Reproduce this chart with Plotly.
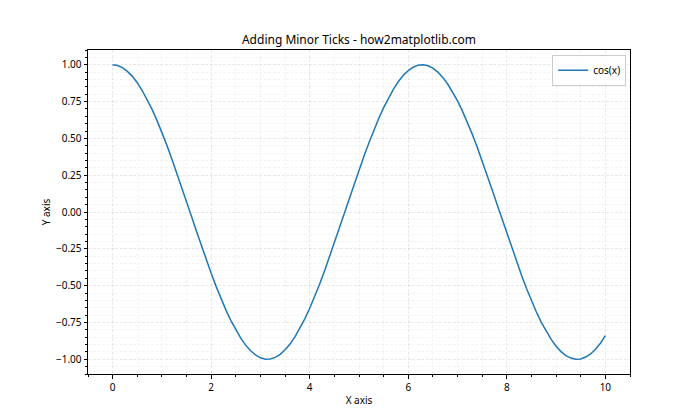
import plotly.graph_objects as go

x_vals = [round(i * 0.1, 1) for i in range(101)]
cos_vals = [1.000, 0.995, 0.980, 0.955, 0.921, 0.878, 0.825, 0.765, 0.697, 0.622,
            0.540, 0.454, 0.362, 0.267, 0.170, 0.071, -0.029, -0.129, -0.227, -0.323,
            -0.416, -0.505, -0.589, -0.666, -0.737, -0.801, -0.857, -0.904, -0.942, -0.971,
            -0.990, -0.999, -0.998, -0.987, -0.967, -0.936, -0.897, -0.848, -0.791, -0.726,
            -0.654, -0.575, -0.490, -0.401, -0.307, -0.211, -0.112, -0.012, 0.087, 0.187,
            0.284, 0.378, 0.469, 0.554, 0.635, 0.709, 0.776, 0.835, 0.886, 0.928,
            0.960, 0.983, 0.997, 1.000, 0.993, 0.977, 0.950, 0.914, 0.869, 0.816,
            0.754, 0.685, 0.608, 0.527, 0.439, 0.347, 0.251, 0.153, 0.054, -0.046,
            -0.146, -0.244, -0.339, -0.431, -0.519, -0.602, -0.679, -0.749, -0.811, -0.865,
            -0.911, -0.948, -0.975, -0.992, -1.000, -0.998, -0.985, -0.964, -0.932, -0.891,
            -0.839]
x_ticks = [0, 2, 4, 6, 8, 10]
y_ticks = [1.00, 0.75, 0.50, 0.25, 0.00, -0.25, -0.50, -0.75, -1.00]
y_tick_text = ["1.00", "0.75", "0.50", "0.25", "0.00", "−0.25", "−0.50", "−0.75", "−1.00"]

font = "Noto Sans, DejaVu Sans, sans-serif"
grid_c = "rgba(0,0,0,0.045)"
gdash = "3px,1.5px"

# page body has an 8px margin: figure spans page x 8..700, y 8..420
W, H = 692, 412
L, R, T, B = 80, 70, 42, 46

fig = go.Figure()
fig.add_trace(go.Scatter(x=x_vals, y=cos_vals, mode="lines", name="cos(x)",
                         line=dict(color="#1f77b4", width=1.5)))

fig.update_layout(
    width=W, height=H,
    margin=dict(l=L, r=R, t=T, b=B, autoexpand=False),
    paper_bgcolor="white", plot_bgcolor="white",
    font=dict(family=font, size=10, color="black"),
    title=dict(text="Adding Minor Ticks - how2matplotlib.com", x=(L + (W - R)) / 2 / W,
               xanchor="center", y=1 - 32 / H, yanchor="middle",
               font=dict(size=12, family=font, color="black")),
    showlegend=True,
    legend=dict(x=0.993, y=0.985, xanchor="right", yanchor="top",
                bordercolor="#cccccc", borderwidth=1, bgcolor="rgba(255,255,255,0.8)",
                font=dict(size=10, family=font)),
    xaxis=dict(range=[-0.5, 10.5], tickvals=x_ticks, ticks="outside", ticklen=3.5,
               tickcolor="black", showline=True, mirror=True, linecolor="black", linewidth=1,
               showgrid=True, gridcolor=grid_c, griddash=gdash, gridwidth=1.2, zeroline=False,
               automargin=False,
               title=dict(text="X axis", standoff=4, font=dict(size=10)),
               minor=dict(dtick=0.5, tick0=0, ticks="outside", ticklen=2, tickcolor="black",
                          showgrid=True, gridcolor=grid_c, griddash=gdash, gridwidth=1.2)),
    yaxis=dict(range=[-1.1, 1.1], tickvals=y_ticks, ticktext=y_tick_text, ticks="outside",
               ticklen=3.5, tickcolor="black", showline=True, mirror=True, linecolor="black",
               linewidth=1, showgrid=True, gridcolor=grid_c, griddash=gdash, gridwidth=1.2,
               zeroline=False, automargin=False,
               title=dict(text="Y axis", standoff=3, font=dict(size=10)),
               minor=dict(dtick=0.05, tick0=0, ticks="outside", ticklen=2, tickcolor="black",
                          showgrid=True, gridcolor=grid_c, griddash=gdash, gridwidth=1.2)),
)

fig.write_html("out.html")
